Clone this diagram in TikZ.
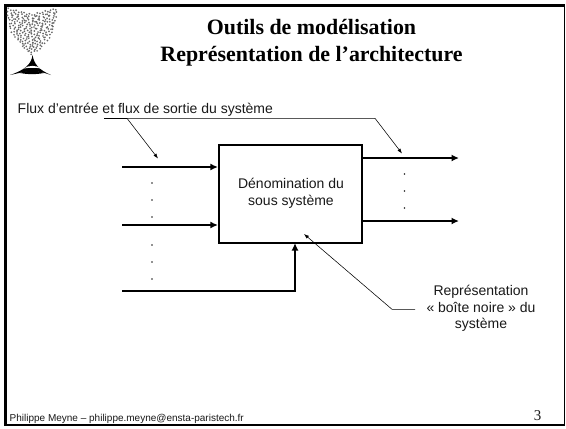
\documentclass[tikz,border=0pt]{standalone}
\usepackage{fontspec}
\setmainfont{Liberation Serif}
\setsansfont{Liberation Sans}
\usetikzlibrary{arrows.meta,positioning}
\tikzset{
  flow/.style={line width=1.9pt,-{Latex[length=7.5pt,width=7pt]}},
  leader/.style={line width=0.55pt,-{Latex[length=5pt,width=3.6pt]}},
  sanslabel/.style={font=\sffamily\fontsize{14}{16.6}\selectfont,text=black!90,inner sep=0pt,align=center},
  titlelabel/.style={font=\rmfamily\bfseries\fontsize{21.9}{27}\selectfont,inner sep=0pt,align=center},
  dotlabel/.style={circle,fill=black!85,inner sep=0pt,minimum size=1.9pt},
  logodot/.style={fill=black!60},
}
\begin{document}
\begin{tikzpicture}[x=1pt,y=-1pt]
\useasboundingbox (0,0) rectangle (566,429);
\fill[white] (0,0) rectangle (566,429);
% slide frame
\draw[line width=1.3pt] (5.5,6) rectangle (564.8,425);
\draw[line width=2.6pt] (5.5,425.5) -- (5.5,5.5) -- (564.8,5.5);
\draw[line width=2.2pt] (5.5,425) -- (564.8,425);
% logo
\foreach \j in {0,...,16}{
  \pgfmathsetmacro{\tv}{\j/16}
  \pgfmathsetmacro{\hw}{23*(1-\tv^2.5)+0.8}
  \pgfmathtruncatemacro{\nn}{round(\hw/2.7)}
  \pgfmathtruncatemacro{\dn}{max(\nn,1)}
  \foreach \i in {-\nn,...,\nn}{
    \pgfmathsetmacro{\uu}{\i/\dn}
    \pgfmathsetmacro{\top}{9+(1-abs(\uu))*6}
    \pgfmathsetmacro{\yy}{\top+(54-\top)*\tv+0.8*sin(130*\i+77*\j)}
    \pgfmathsetmacro{\xx}{32+\hw*\uu+0.9*sin(91*\i*\j+40*\j)}
    \fill[logodot] (\xx,\yy) circle (0.95);
  }
}
\fill[black] (32.5,55) .. controls (31.5,64) and (25,70) .. (10,75)
  .. controls (24,72) and (28,71) .. (32,71)
  .. controls (37,71) and (42,72) .. (51,75)
  .. controls (39,70) and (34,64) .. (32.5,55) -- cycle;
\fill[white] (24,68.5) .. controls (28,65) and (37,65) .. (41,68.5)
  .. controls (36,67.5) and (29,67.5) .. (24,68.5) -- cycle;
\fill[black] (20,73) .. controls (27,70) and (38,70) .. (44,73)
  .. controls (36,74.5) and (28,74.5) .. (20,73) -- cycle;
% title
\node[titlelabel] (title) at (311.5,43) {Outils de modélisation\\Représentation de l’architecture};
% central box
\node[draw,line width=2.2pt,minimum width=143pt,minimum height=98pt,inner sep=0pt] (box) at (290.5,194) {};
\node[sanslabel] (boxlabel) at (291,193) {Dénomination du\\sous système};
% input / output coordinates
\coordinate (in1) at (122,167);
\coordinate (in2) at (122,225);
\coordinate (in3) at (122,291);
\coordinate (corner) at (295,291);
\coordinate (inb1) at (box.west |- in1);
\coordinate (inb2) at (box.west |- in2);
\coordinate (inb3) at (295,243);
\coordinate (outb1) at (box.east |- 0,158);
\coordinate (outb2) at (box.east |- 0,221);
\coordinate (out1) at (459,158);
\coordinate (out2) at (459,221);
\draw[flow] (in1) -- (inb1);
\draw[flow] (in2) -- (inb2);
\draw[flow] (in3) -- (corner) -- (inb3);
\draw[flow] (outb1) -- (out1);
\draw[flow] (outb2) -- (out2);
% dots
\foreach \n/\x/\y in {a/152/183,b/152/200,c/152/217,d/152/245,e/152/262,f/152/279,g/404.5/174,h/404.5/191,i/404.5/208}{
  \node[dotlabel] (dot\n) at (\x,\y) {};
}
% top label and leaders
\node[sanslabel,anchor=west] (fluxlabel) at (17.5,109.5) {Flux d’entrée et flux de sortie du système};
\coordinate (l0) at (104,118.3);
\coordinate (l1) at (127,118.3);
\coordinate (l2) at (375,118.3);
\coordinate (t1) at (158,158.5);
\coordinate (t2) at (402,153.5);
\draw[line width=0.6pt] (l0) -- (l1);
\draw[leader] (l1) -- (t1);
\draw[leader] (l1) -- (l2) -- (t2);
% bottom right label and leader
\node[sanslabel] (replabel) at (481,308.5) {Représentation\\« boîte noire » du\\système};
\coordinate (r0) at (415,309.3);
\coordinate (r1) at (392,309.3);
\coordinate (r2) at (304,234);
\draw[leader] (r0) -- (r1) -- (r2);
% footer
\node[font=\sffamily\fontsize{10}{12}\selectfont,text=black!90,anchor=west,inner sep=0pt] (footer) at (9.5,418.5) {Philippe Meyne – philippe.meyne@ensta-paristech.fr};
\node[font=\rmfamily\fontsize{15}{15}\selectfont,text=black!90,inner sep=0pt] (pagenum) at (537.5,415.5) {3};
\end{tikzpicture}
\end{document}
